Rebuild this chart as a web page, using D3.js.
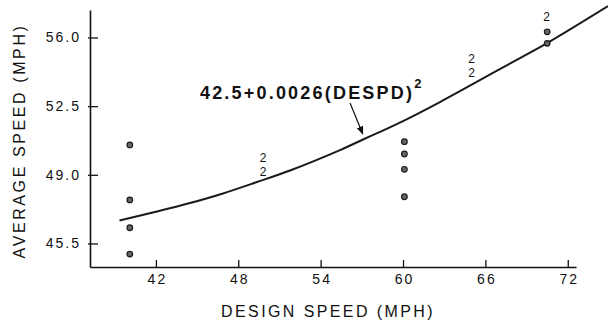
<!DOCTYPE html>
<html>
<head>
<meta charset="utf-8">
<script src="https://cdn.jsdelivr.net/npm/d3@7"></script>
<style>
  html, body { margin: 0; padding: 0; background: #fff; }
  svg { display: block; }
  text { font-family: "Liberation Sans", Arial, Helvetica, sans-serif; fill: #111; }
</style>
</head>
<body>
<svg id="chart" width="608" height="326"></svg>
<script>
// ---- data ----
const xTicks = [42, 48, 54, 60, 66, 72];
const yTicks = [45.5, 49.0, 52.5, 56.0];
const yTickLabels = ["45.5", "49.0", "52.5", "56.0"];

// single observations (design speed, average speed)
const obsSpeed = [40.1, 40.1, 40.1, 40.1, 60.1, 60.1, 60.1, 60.1, 70.5, 70.5];
const obsAvg   = [50.52, 47.72, 46.30, 44.96, 50.69, 50.06, 49.28, 47.88, 56.29, 55.70];

// "2" markers (two coincident observations)
const dupSpeed = [49.8, 49.8, 65.0, 65.0, 70.45];
const dupAvg   = [49.86, 49.14, 54.93, 54.21, 57.06];

// fitted curve
const fitX = [39.35, 42.08, 44.48, 46.89, 49.36, 51.77, 55.41, 57.09, 58.32, 60.00, 62.69, 65.10, 68.52, 70.56, 74.93];
const fitY = [46.67, 47.13, 47.56, 48.05, 48.63, 49.22, 50.26, 50.80, 51.19, 51.74, 52.71, 53.63, 54.95, 55.74, 57.60];

const annotationText = "42.5+0.0026(DESPD)";
const annotationSup = "2";
const xTitle = "DESIGN SPEED (MPH)";
const yTitle = "AVERAGE SPEED (MPH)";

// ---- layout ----
const svg = d3.select("#chart");
const x = d3.scaleLinear().domain([37.2, 72.6]).range([90, 576]);
const y = d3.scaleLinear().domain([44.3, 57.4]).range([267, 10]);

// x axis
const gx = svg.append("g").attr("transform", `translate(0,${y(44.3)})`)
  .call(d3.axisBottom(x).tickValues(xTicks).tickFormat(d3.format("d"))
    .tickSizeInner(-7).tickSizeOuter(0).tickPadding(7));
gx.select(".domain").attr("stroke", "#111").attr("stroke-width", 1.6);
gx.selectAll(".tick line").attr("stroke", "#111").attr("stroke-width", 1.3);
gx.selectAll(".tick text").attr("font-size", 14).attr("letter-spacing", "2px")
  .attr("fill", "#111").style("font-family", "'Liberation Sans', Arial, sans-serif")
  .attr("dx", "1px");

// y axis
const gy = svg.append("g").attr("transform", `translate(${x(37.2)},0)`)
  .call(d3.axisLeft(y).tickValues(yTicks).tickFormat((d, i) => yTickLabels[i])
    .tickSizeInner(-8).tickSizeOuter(0).tickPadding(9));
gy.select(".domain").attr("stroke", "#111").attr("stroke-width", 1.6);
gy.selectAll(".tick line").attr("x1", -2).attr("x2", 8).attr("stroke", "#111").attr("stroke-width", 1.3);
gy.selectAll(".tick text").attr("font-size", 14).attr("letter-spacing", "2px")
  .attr("fill", "#111").style("font-family", "'Liberation Sans', Arial, sans-serif");

// axis titles
svg.append("text")
  .attr("x", 328).attr("y", 317)
  .attr("text-anchor", "middle").attr("font-size", 16).attr("letter-spacing", "2.4px")
  .text(xTitle);
svg.append("text")
  .attr("transform", `translate(25,141) rotate(-90)`)
  .attr("text-anchor", "middle").attr("font-size", 16).attr("letter-spacing", "2.6px")
  .text(yTitle);

// fitted curve
const fitData = fitX.map((v, i) => [v, fitY[i]]);
svg.append("path")
  .datum(fitData)
  .attr("fill", "none").attr("stroke", "#1a1a1a").attr("stroke-width", 2)
  .attr("d", d3.line().x(d => x(d[0])).y(d => y(d[1])).curve(d3.curveCatmullRom.alpha(0.5)));

// observations
const obs = obsSpeed.map((v, i) => [v, obsAvg[i]]);
svg.append("g").selectAll("circle").data(obs).join("circle")
  .attr("cx", d => x(d[0])).attr("cy", d => y(d[1])).attr("r", 2.8)
  .attr("fill", "#666").attr("stroke", "#1a1a1a").attr("stroke-width", 1.2);

// "2" markers
const dups = dupSpeed.map((v, i) => [v, dupAvg[i]]);
svg.append("g").selectAll("text").data(dups).join("text")
  .attr("x", d => x(d[0])).attr("y", d => y(d[1])).attr("dy", "0.36em")
  .attr("text-anchor", "middle").attr("font-size", 12)
  .text("2");

// annotation
const ann = svg.append("text")
  .attr("x", x(45.21)).attr("y", y(52.88))
  .attr("font-size", 18).attr("font-weight", "bold").attr("letter-spacing", "2.2px");
ann.append("tspan").text(annotationText);
ann.append("tspan").attr("dy", -11).attr("font-size", 13).attr("letter-spacing", "0px").text(annotationSup);

// arrow
svg.append("defs").append("marker")
  .attr("id", "ah").attr("viewBox", "0 0 10 10").attr("refX", 9).attr("refY", 5)
  .attr("markerWidth", 7).attr("markerHeight", 7).attr("orient", "auto")
  .append("path").attr("d", "M0,1 L10,5 L0,9 Z").attr("fill", "#111");
svg.append("line")
  .attr("x1", x(56.14)).attr("y1", y(52.66))
  .attr("x2", x(57.07)).attr("y2", y(51.08))
  .attr("stroke", "#111").attr("stroke-width", 1.2)
  .attr("marker-end", "url(#ah)");
</script>
</body>
</html>
